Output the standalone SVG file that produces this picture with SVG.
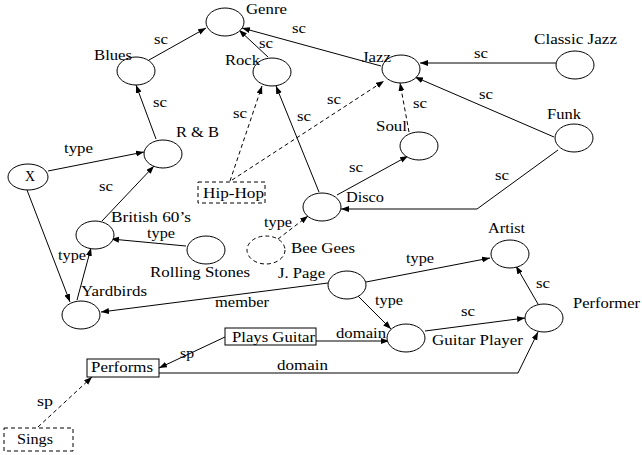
<svg xmlns="http://www.w3.org/2000/svg" width="642" height="455" viewBox="0 0 642 455">
<defs>
<marker id="ah" markerWidth="9" markerHeight="7" refX="8" refY="3" orient="auto" markerUnits="userSpaceOnUse"><path d="M0,0 L8,3 L0,6 z" fill="#000"/></marker>
<style>
.n{fill:#fff;stroke:#000;stroke-width:1}
.d{stroke-dasharray:4,3}
.e{fill:none;stroke:#000;stroke-width:1;marker-end:url(#ah)}
text{font-family:"Liberation Serif","Times New Roman",serif;font-size:14px;fill:#000}
</style>
</defs>
<rect width="642" height="455" fill="#fff"/>
<g id="connectors">
<path class="e" d="M149,60 L206,28"/>
<path class="e" d="M268,57 L239,30"/>
<path class="e" d="M381,66 L242,28"/>
<path class="e" d="M556,63 L420,63"/>
<path class="e" d="M554,137 L415,77"/>
<path class="e" d="M558,150 L477,209 L341,209"/>
<path class="e d" d="M409,132 L400,83"/>
<path class="e d" d="M230,181 L262,86"/>
<path class="e d" d="M232,180 L384,81"/>
<path class="e" d="M319,192 L276,86"/>
<path class="e" d="M337,195 L408,156"/>
<path class="e" d="M156,139 L136,85"/>
<path class="e" d="M48,171 L144,152"/>
<path class="e" d="M27,190 L70,302"/>
<path class="e" d="M77,300 L91,248"/>
<path class="e" d="M102,221 L154,166"/>
<path class="e" d="M186,246 L111,239"/>
<path class="e d" d="M278,239 L308,216"/>
<path class="e" d="M366,282 L490,258"/>
<path class="e" d="M328,283 L101,312"/>
<path class="e" d="M358,296 L391,329"/>
<path class="e" d="M316,341 L389,341"/>
<path class="e" d="M225,337 L159,368"/>
<path class="e" d="M159,373 L518,373 L538,332"/>
<path class="e" d="M425,331 L525,318"/>
<path class="e" d="M538,304 L516,266"/>
<path class="e d" d="M38,427 L92,377"/>
<text x="154" y="44" textLength="14" lengthAdjust="spacingAndGlyphs">sc</text>
<text x="259" y="48" textLength="14" lengthAdjust="spacingAndGlyphs">sc</text>
<text x="292" y="33" textLength="14" lengthAdjust="spacingAndGlyphs">sc</text>
<text x="474" y="58" textLength="14" lengthAdjust="spacingAndGlyphs">sc</text>
<text x="479" y="99" textLength="14" lengthAdjust="spacingAndGlyphs">sc</text>
<text x="495" y="180" textLength="14" lengthAdjust="spacingAndGlyphs">sc</text>
<text x="413" y="108" textLength="14" lengthAdjust="spacingAndGlyphs">sc</text>
<text x="233" y="118" textLength="14" lengthAdjust="spacingAndGlyphs">sc</text>
<text x="327" y="104" textLength="14" lengthAdjust="spacingAndGlyphs">sc</text>
<text x="297" y="121" textLength="14" lengthAdjust="spacingAndGlyphs">sc</text>
<text x="349" y="172" textLength="14" lengthAdjust="spacingAndGlyphs">sc</text>
<text x="153" y="107" textLength="14" lengthAdjust="spacingAndGlyphs">sc</text>
<text x="64" y="153" textLength="29" lengthAdjust="spacingAndGlyphs">type</text>
<text x="99" y="191" textLength="14" lengthAdjust="spacingAndGlyphs">sc</text>
<text x="147" y="238" textLength="28" lengthAdjust="spacingAndGlyphs">type</text>
<text x="58" y="260" textLength="28" lengthAdjust="spacingAndGlyphs">type</text>
<text x="264" y="227" textLength="28" lengthAdjust="spacingAndGlyphs">type</text>
<text x="406" y="263" textLength="28" lengthAdjust="spacingAndGlyphs">type</text>
<text x="215" y="307" textLength="54" lengthAdjust="spacingAndGlyphs">member</text>
<text x="375" y="305" textLength="28" lengthAdjust="spacingAndGlyphs">type</text>
<text x="336" y="338" textLength="50" lengthAdjust="spacingAndGlyphs">domain</text>
<text x="180" y="358" textLength="14" lengthAdjust="spacingAndGlyphs">sp</text>
<text x="277" y="370" textLength="51" lengthAdjust="spacingAndGlyphs">domain</text>
<text x="461" y="316" textLength="14" lengthAdjust="spacingAndGlyphs">sc</text>
<text x="536" y="288" textLength="14" lengthAdjust="spacingAndGlyphs">sc</text>
<text x="37" y="406" textLength="16" lengthAdjust="spacingAndGlyphs">sp</text>
</g>
<g id="genre"><ellipse class="n" cx="225" cy="22" rx="19" ry="14"/><text x="246" y="14" textLength="41" lengthAdjust="spacingAndGlyphs">Genre</text></g>
<g id="blues"><ellipse class="n" cx="136" cy="71" rx="19" ry="14"/><text x="94" y="60" textLength="38" lengthAdjust="spacingAndGlyphs">Blues</text></g>
<g id="rock"><ellipse class="n" cx="272" cy="72" rx="19" ry="14"/><text x="225" y="65" textLength="35" lengthAdjust="spacingAndGlyphs">Rock</text></g>
<g id="jazz"><ellipse class="n" cx="401" cy="69" rx="19" ry="14"/><text x="362" y="62" textLength="29" lengthAdjust="spacingAndGlyphs">Jazz</text></g>
<g id="classic-jazz"><ellipse class="n" cx="575" cy="65" rx="19" ry="14"/><text x="534" y="44" textLength="83" lengthAdjust="spacingAndGlyphs">Classic Jazz</text></g>
<g id="funk"><ellipse class="n" cx="574" cy="138" rx="19" ry="14"/><text x="547" y="119" textLength="34" lengthAdjust="spacingAndGlyphs">Funk</text></g>
<g id="soul"><ellipse class="n" cx="419" cy="146" rx="19" ry="14"/><text x="376" y="131" textLength="31" lengthAdjust="spacingAndGlyphs">Soul</text></g>
<g id="rnb"><ellipse class="n" cx="163" cy="154" rx="19" ry="14"/><text x="176" y="137" textLength="43" lengthAdjust="spacingAndGlyphs">R &amp; B</text></g>
<g id="x"><ellipse class="n" cx="28" cy="177" rx="20" ry="13"/><text x="25" y="181" textLength="10" lengthAdjust="spacingAndGlyphs">X</text></g>
<g id="hiphop"><rect class="n d" x="198" y="182" width="67" height="21"/><text x="203" y="198" textLength="61" lengthAdjust="spacingAndGlyphs">Hip-Hop</text></g>
<g id="disco"><ellipse class="n" cx="322" cy="207" rx="19" ry="14"/><text x="346" y="202" textLength="38" lengthAdjust="spacingAndGlyphs">Disco</text></g>
<g id="british"><ellipse class="n" cx="95" cy="235" rx="19" ry="14"/><text x="111" y="222" textLength="80" lengthAdjust="spacingAndGlyphs">British 60’s</text></g>
<g id="rolling"><ellipse class="n" cx="206" cy="250" rx="19" ry="14"/><text x="150" y="277" textLength="100" lengthAdjust="spacingAndGlyphs">Rolling Stones</text></g>
<g id="beegees"><ellipse class="n d" cx="266" cy="250" rx="19" ry="14"/><text x="291" y="253" textLength="64" lengthAdjust="spacingAndGlyphs">Bee Gees</text></g>
<g id="jpage"><ellipse class="n" cx="347" cy="285" rx="19" ry="14"/><text x="278" y="278" textLength="47" lengthAdjust="spacingAndGlyphs">J. Page</text></g>
<g id="artist"><ellipse class="n" cx="510" cy="254" rx="19" ry="14"/><text x="488" y="233" textLength="37" lengthAdjust="spacingAndGlyphs">Artist</text></g>
<g id="yardbirds"><ellipse class="n" cx="81" cy="315" rx="19" ry="14"/><text x="81" y="296" textLength="66" lengthAdjust="spacingAndGlyphs">Yardbirds</text></g>
<g id="guitar-player"><ellipse class="n" cx="406" cy="338" rx="19" ry="14"/><text x="432" y="345" textLength="91" lengthAdjust="spacingAndGlyphs">Guitar Player</text></g>
<g id="performer"><ellipse class="n" cx="544" cy="318" rx="19" ry="14"/><text x="573" y="308" textLength="67" lengthAdjust="spacingAndGlyphs">Performer</text></g>
<g id="plays-guitar"><rect class="n" x="225" y="328" width="91" height="17"/><text x="232" y="342" textLength="83" lengthAdjust="spacingAndGlyphs">Plays Guitar</text></g>
<g id="performs"><rect class="n" x="87" y="359" width="72" height="18"/><text x="91" y="372" textLength="62" lengthAdjust="spacingAndGlyphs">Performs</text></g>
<g id="sings"><rect class="n d" x="4" y="428" width="69" height="23"/><text x="17" y="444" textLength="36" lengthAdjust="spacingAndGlyphs">Sings</text></g>
</svg>
